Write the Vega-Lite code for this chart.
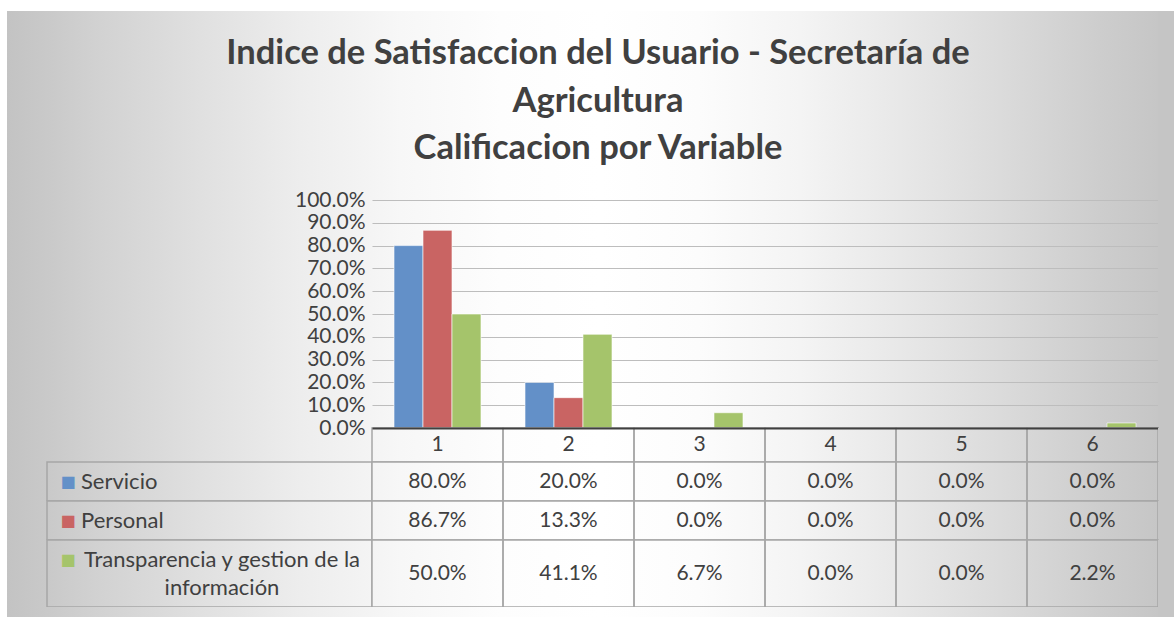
{
  "$schema": "https://vega.github.io/schema/vega-lite/v6.json",
  "padding": {"left": 7, "top": 11, "right": 0, "bottom": 0},
  "background": "#ffffff",
  "columns": 4,
  "spacing": 0,
  "bounds": "flush",
  "config": {
    "view": {"stroke": null},
    "font": "Lato",
    "axis": {"labelFont": "Lato"},
    "text": {"font": "Lato"}
  },
  "datasets": {
    "scores": [
      {"cat": "1", "serie": "Servicio", "value": 0.8},
      {"cat": "2", "serie": "Servicio", "value": 0.2},
      {"cat": "3", "serie": "Servicio", "value": 0},
      {"cat": "4", "serie": "Servicio", "value": 0},
      {"cat": "5", "serie": "Servicio", "value": 0},
      {"cat": "6", "serie": "Servicio", "value": 0},
      {"cat": "1", "serie": "Personal", "value": 0.867},
      {"cat": "2", "serie": "Personal", "value": 0.133},
      {"cat": "3", "serie": "Personal", "value": 0},
      {"cat": "4", "serie": "Personal", "value": 0},
      {"cat": "5", "serie": "Personal", "value": 0},
      {"cat": "6", "serie": "Personal", "value": 0},
      {"cat": "1", "serie": "Transparencia y gestion de la información", "value": 0.5},
      {"cat": "2", "serie": "Transparencia y gestion de la información", "value": 0.411},
      {"cat": "3", "serie": "Transparencia y gestion de la información", "value": 0.067},
      {"cat": "4", "serie": "Transparencia y gestion de la información", "value": 0},
      {"cat": "5", "serie": "Transparencia y gestion de la información", "value": 0},
      {"cat": "6", "serie": "Transparencia y gestion de la información", "value": 0.022}
    ],
    "series": [
      {"serie": "Servicio", "label": "Servicio"},
      {"serie": "Personal", "label": "Personal"},
      {"serie": "Transparencia y gestion de la información", "label": "Transparencia y gestion de la\ninformación"}
    ],
    "titles": [
      {"n": 1, "t": "Indice de Satisfaccion del Usuario - Secretaría de"},
      {"n": 2, "t": "Agricultura"},
      {"n": 3, "t": "Calificacion por Variable"}
    ]
  },
  "concat": [
    {"width": 40, "height": 189, "view": {"fill": {"gradient": "linear", "stops": [{"offset": 0, "color": "#c3c3c3"}, {"offset": 1, "color": "#c9c9c9"}]}},
      "data": {"name": "series"}, "mark": {"type": "point", "opacity": 0}, "encoding": {}},
    {"width": 325, "height": 189, "view": {"fill": {"gradient": "linear", "stops": [{"offset": 0, "color": "#c9c9c9"}, {"offset": 0.163, "color": "#d2d2d2"}, {"offset": 0.471, "color": "#e0e0e0"}, {"offset": 0.779, "color": "#ededed"}, {"offset": 1, "color": "#f4f4f4"}]}},
      "data": {"name": "series"}, "mark": {"type": "point", "opacity": 0}, "encoding": {}},
    {
      "width": 786, "height": 189,
      "view": {"fill": {"gradient": "linear", "stops": [{"offset": 0, "color": "#f4f4f4"}, {"offset": 0.036, "color": "#f7f7f7"}, {"offset": 0.163, "color": "#fdfdfd"}, {"offset": 0.29, "color": "#ffffff"}, {"offset": 0.417, "color": "#fcfcfc"}, {"offset": 0.545, "color": "#f4f4f4"}, {"offset": 0.672, "color": "#e8e8e8"}, {"offset": 0.799, "color": "#dbdbdb"}, {"offset": 0.926, "color": "#cdcdcd"}, {"offset": 1, "color": "#c6c6c6"}]}},
      "data": {"name": "titles"},
      "mark": {"type": "text", "fontWeight": "bold", "fontSize": 34.5, "color": "#404040", "dx": -167, "baseline": "middle"},
      "encoding": {
        "y": {"field": "n", "type": "ordinal", "scale": {"type": "point", "padding": 1.03, "align": 0.46}, "axis": null},
        "text": {"field": "t"}
      }
    },
    {"width": 16, "height": 189, "view": {"fill": "#c5c5c5"}, "data": {"name": "series"}, "mark": {"type": "point", "opacity": 0}, "encoding": {}},

    {"width": 40, "height": 228, "view": {"fill": {"gradient": "linear", "stops": [{"offset": 0, "color": "#c3c3c3"}, {"offset": 1, "color": "#c9c9c9"}]}},
      "data": {"name": "series"}, "mark": {"type": "point", "opacity": 0}, "encoding": {}},
    {"width": 325, "height": 228, "view": {"fill": {"gradient": "linear", "stops": [{"offset": 0, "color": "#c9c9c9"}, {"offset": 0.163, "color": "#d2d2d2"}, {"offset": 0.471, "color": "#e0e0e0"}, {"offset": 0.779, "color": "#ededed"}, {"offset": 1, "color": "#f4f4f4"}]}},
      "data": {"name": "series"}, "mark": {"type": "point", "opacity": 0}, "encoding": {}},
    {
      "width": 786, "height": 228,
      "view": {"fill": {"gradient": "linear", "stops": [{"offset": 0, "color": "#f4f4f4"}, {"offset": 0.036, "color": "#f7f7f7"}, {"offset": 0.163, "color": "#fdfdfd"}, {"offset": 0.29, "color": "#ffffff"}, {"offset": 0.417, "color": "#fcfcfc"}, {"offset": 0.545, "color": "#f4f4f4"}, {"offset": 0.672, "color": "#e8e8e8"}, {"offset": 0.799, "color": "#dbdbdb"}, {"offset": 0.926, "color": "#cdcdcd"}, {"offset": 1, "color": "#c6c6c6"}]}},
      "data": {"name": "scores"},
      "transform": [{"filter": "datum.value > 0"}],
      "mark": {"type": "bar", "stroke": "#ffffff", "strokeOpacity": 0.6, "strokeWidth": 1},
      "encoding": {
        "x": {"field": "cat", "type": "nominal",
          "scale": {"domain": ["1", "2", "3", "4", "5", "6"], "paddingInner": 0.336, "paddingOuter": 0.168},
          "axis": null},
        "xOffset": {"field": "serie", "type": "nominal",
          "scale": {"domain": ["Servicio", "Personal", "Transparencia y gestion de la información"], "paddingInner": 0, "paddingOuter": 0}},
        "y": {"field": "value", "type": "quantitative", "scale": {"domain": [0, 1]},
          "axis": {"title": null, "format": ".1%", "values": [0.1, 0.2, 0.3, 0.4, 0.5, 0.6, 0.7, 0.8, 0.9, 1],
            "labelOverlap": false, "labelBound": false,
            "domain": false, "ticks": false, "labelPadding": 7, "labelFontSize": 21, "labelColor": "#404040", "labelBaseline": "middle",
            "grid": true, "gridColor": "#bdbdbd", "gridWidth": 1}},
        "color": {"field": "serie", "type": "nominal", "legend": null,
          "scale": {"domain": ["Servicio", "Personal", "Transparencia y gestion de la información"], "range": ["#6390c8", "#c96463", "#a5c46b"]}}
      }
    },
    {"width": 16, "height": 228, "view": {"fill": "#c5c5c5"}, "data": {"name": "series"}, "mark": {"type": "point", "opacity": 0}, "encoding": {}},

    {"width": 40, "height": 34, "view": {"fill": {"gradient": "linear", "stops": [{"offset": 0, "color": "#c3c3c3"}, {"offset": 1, "color": "#c9c9c9"}]}},
      "data": {"name": "series"}, "mark": {"type": "point", "opacity": 0}, "encoding": {}},
    {"width": 325, "height": 34, "view": {"fill": {"gradient": "linear", "stops": [{"offset": 0, "color": "#c9c9c9"}, {"offset": 0.163, "color": "#d2d2d2"}, {"offset": 0.471, "color": "#e0e0e0"}, {"offset": 0.779, "color": "#ededed"}, {"offset": 1, "color": "#f4f4f4"}]}},
      "data": {"name": "series"}, "mark": {"type": "point", "opacity": 0},
      "encoding": {"y": {"datum": 0, "type": "quantitative", "scale": {"domain": [0, 1], "reverse": true},
        "axis": {"orient": "right", "values": [0], "format": ".1%", "title": null, "domain": false, "ticks": false, "grid": false,
          "labelPadding": -7, "labelAlign": "right", "labelBaseline": "middle", "labelFontSize": 21, "labelColor": "#404040",
          "labelOverlap": false, "labelBound": false, "labelFlush": false}}}},
    {
      "width": 786, "height": 34,
      "view": {"fill": {"gradient": "linear", "stops": [{"offset": 0, "color": "#f4f4f4"}, {"offset": 0.036, "color": "#f7f7f7"}, {"offset": 0.163, "color": "#fdfdfd"}, {"offset": 0.29, "color": "#ffffff"}, {"offset": 0.417, "color": "#fcfcfc"}, {"offset": 0.545, "color": "#f4f4f4"}, {"offset": 0.672, "color": "#e8e8e8"}, {"offset": 0.799, "color": "#dbdbdb"}, {"offset": 0.926, "color": "#cdcdcd"}, {"offset": 1, "color": "#c6c6c6"}]}},
      "data": {"name": "scores"},
      "transform": [{"filter": {"field": "serie", "equal": "Servicio"}}],
      "encoding": {"x": {"field": "cat", "type": "nominal", "scale": {"paddingInner": 0, "paddingOuter": 0},
        "axis": {"orient": "top", "title": null, "labels": false, "ticks": false, "grid": false, "domain": true, "domainColor": "#404040", "domainWidth": 2, "zindex": 1}}},
      "layer": [
        {"mark": {"type": "rect", "fill": "transparent", "stroke": "#a6a6a6", "strokeWidth": 1.5}},
        {"mark": {"type": "text", "fontSize": 21, "color": "#404040", "baseline": "middle"}, "encoding": {"text": {"field": "cat"}}}
      ]
    },
    {"width": 16, "height": 34, "view": {"fill": "#c5c5c5"}, "data": {"name": "series"}, "mark": {"type": "point", "opacity": 0}, "encoding": {}},

    {"width": 40, "height": 39, "view": {"fill": {"gradient": "linear", "stops": [{"offset": 0, "color": "#c3c3c3"}, {"offset": 1, "color": "#c9c9c9"}]}},
      "data": {"name": "series"}, "mark": {"type": "point", "opacity": 0}, "encoding": {}},
    {
      "width": 325, "height": 39,
      "view": {"stroke": "#a6a6a6", "strokeWidth": 1.5, "fill": {"gradient": "linear", "stops": [{"offset": 0, "color": "#c9c9c9"}, {"offset": 0.163, "color": "#d2d2d2"}, {"offset": 0.471, "color": "#e0e0e0"}, {"offset": 0.779, "color": "#ededed"}, {"offset": 1, "color": "#f4f4f4"}]}},
      "data": {"name": "series"},
      "transform": [{"filter": {"field": "serie", "equal": "Servicio"}}],
      "layer": [
        {"mark": {"type": "text", "text": "■", "font": "DejaVu Sans", "fontSize": 16, "dx": -141.5, "baseline": "middle"},
          "encoding": {"color": {"field": "serie", "type": "nominal", "legend": null,
            "scale": {"domain": ["Servicio", "Personal", "Transparencia y gestion de la información"], "range": ["#4f81bd", "#c0504d", "#9bbb59"]}}}},
        {"mark": {"type": "text", "align": "left", "dx": -128.5, "fontSize": 22, "color": "#404040", "baseline": "middle"},
          "encoding": {"text": {"field": "label"}}}
      ]
    },
    {
      "width": 786, "height": 39,
      "view": {"fill": {"gradient": "linear", "stops": [{"offset": 0, "color": "#f4f4f4"}, {"offset": 0.036, "color": "#f7f7f7"}, {"offset": 0.163, "color": "#fdfdfd"}, {"offset": 0.29, "color": "#ffffff"}, {"offset": 0.417, "color": "#fcfcfc"}, {"offset": 0.545, "color": "#f4f4f4"}, {"offset": 0.672, "color": "#e8e8e8"}, {"offset": 0.799, "color": "#dbdbdb"}, {"offset": 0.926, "color": "#cdcdcd"}, {"offset": 1, "color": "#c6c6c6"}]}},
      "data": {"name": "scores"},
      "transform": [{"filter": {"field": "serie", "equal": "Servicio"}}],
      "encoding": {"x": {"field": "cat", "type": "nominal", "scale": {"paddingInner": 0, "paddingOuter": 0}, "axis": null}},
      "layer": [
        {"mark": {"type": "rect", "fill": "transparent", "stroke": "#a6a6a6", "strokeWidth": 1.5}},
        {"mark": {"type": "text", "fontSize": 21, "color": "#404040", "baseline": "middle"}, "encoding": {"text": {"field": "value", "type": "quantitative", "format": ".1%"}}}
      ]
    },
    {"width": 16, "height": 39, "view": {"fill": "#c5c5c5"}, "data": {"name": "series"}, "mark": {"type": "point", "opacity": 0}, "encoding": {}},

    {"width": 40, "height": 39, "view": {"fill": {"gradient": "linear", "stops": [{"offset": 0, "color": "#c3c3c3"}, {"offset": 1, "color": "#c9c9c9"}]}},
      "data": {"name": "series"}, "mark": {"type": "point", "opacity": 0}, "encoding": {}},
    {
      "width": 325, "height": 39,
      "view": {"stroke": "#a6a6a6", "strokeWidth": 1.5, "fill": {"gradient": "linear", "stops": [{"offset": 0, "color": "#c9c9c9"}, {"offset": 0.163, "color": "#d2d2d2"}, {"offset": 0.471, "color": "#e0e0e0"}, {"offset": 0.779, "color": "#ededed"}, {"offset": 1, "color": "#f4f4f4"}]}},
      "data": {"name": "series"},
      "transform": [{"filter": {"field": "serie", "equal": "Personal"}}],
      "layer": [
        {"mark": {"type": "text", "text": "■", "font": "DejaVu Sans", "fontSize": 16, "dx": -141.5, "baseline": "middle"},
          "encoding": {"color": {"field": "serie", "type": "nominal", "legend": null,
            "scale": {"domain": ["Servicio", "Personal", "Transparencia y gestion de la información"], "range": ["#4f81bd", "#c0504d", "#9bbb59"]}}}},
        {"mark": {"type": "text", "align": "left", "dx": -128.5, "fontSize": 22, "color": "#404040", "baseline": "middle"},
          "encoding": {"text": {"field": "label"}}}
      ]
    },
    {
      "width": 786, "height": 39,
      "view": {"fill": {"gradient": "linear", "stops": [{"offset": 0, "color": "#f4f4f4"}, {"offset": 0.036, "color": "#f7f7f7"}, {"offset": 0.163, "color": "#fdfdfd"}, {"offset": 0.29, "color": "#ffffff"}, {"offset": 0.417, "color": "#fcfcfc"}, {"offset": 0.545, "color": "#f4f4f4"}, {"offset": 0.672, "color": "#e8e8e8"}, {"offset": 0.799, "color": "#dbdbdb"}, {"offset": 0.926, "color": "#cdcdcd"}, {"offset": 1, "color": "#c6c6c6"}]}},
      "data": {"name": "scores"},
      "transform": [{"filter": {"field": "serie", "equal": "Personal"}}],
      "encoding": {"x": {"field": "cat", "type": "nominal", "scale": {"paddingInner": 0, "paddingOuter": 0}, "axis": null}},
      "layer": [
        {"mark": {"type": "rect", "fill": "transparent", "stroke": "#a6a6a6", "strokeWidth": 1.5}},
        {"mark": {"type": "text", "fontSize": 21, "color": "#404040", "baseline": "middle"}, "encoding": {"text": {"field": "value", "type": "quantitative", "format": ".1%"}}}
      ]
    },
    {"width": 16, "height": 39, "view": {"fill": "#c5c5c5"}, "data": {"name": "series"}, "mark": {"type": "point", "opacity": 0}, "encoding": {}},

    {"width": 40, "height": 67, "view": {"fill": {"gradient": "linear", "stops": [{"offset": 0, "color": "#c3c3c3"}, {"offset": 1, "color": "#c9c9c9"}]}},
      "data": {"name": "series"}, "mark": {"type": "point", "opacity": 0}, "encoding": {}},
    {
      "width": 325, "height": 67,
      "view": {"stroke": "#a6a6a6", "strokeWidth": 1.5, "fill": {"gradient": "linear", "stops": [{"offset": 0, "color": "#c9c9c9"}, {"offset": 0.163, "color": "#d2d2d2"}, {"offset": 0.471, "color": "#e0e0e0"}, {"offset": 0.779, "color": "#ededed"}, {"offset": 1, "color": "#f4f4f4"}]}},
      "data": {"name": "series"},
      "transform": [{"filter": {"field": "serie", "equal": "Transparencia y gestion de la información"}}],
      "layer": [
        {"mark": {"type": "text", "text": "■", "font": "DejaVu Sans", "fontSize": 16, "dx": -141.5, "dy": -14, "baseline": "middle"},
          "encoding": {"color": {"field": "serie", "type": "nominal", "legend": null,
            "scale": {"domain": ["Servicio", "Personal", "Transparencia y gestion de la información"], "range": ["#4f81bd", "#c0504d", "#9bbb59"]}}}},
        {"mark": {"type": "text", "align": "center", "dx": 12.5, "dy": -14, "fontSize": 22, "color": "#404040", "baseline": "middle", "lineBreak": "\n", "lineHeight": 28},
          "encoding": {"text": {"field": "label"}}}
      ]
    },
    {
      "width": 786, "height": 67,
      "view": {"fill": {"gradient": "linear", "stops": [{"offset": 0, "color": "#f4f4f4"}, {"offset": 0.036, "color": "#f7f7f7"}, {"offset": 0.163, "color": "#fdfdfd"}, {"offset": 0.29, "color": "#ffffff"}, {"offset": 0.417, "color": "#fcfcfc"}, {"offset": 0.545, "color": "#f4f4f4"}, {"offset": 0.672, "color": "#e8e8e8"}, {"offset": 0.799, "color": "#dbdbdb"}, {"offset": 0.926, "color": "#cdcdcd"}, {"offset": 1, "color": "#c6c6c6"}]}},
      "data": {"name": "scores"},
      "transform": [{"filter": {"field": "serie", "equal": "Transparencia y gestion de la información"}}],
      "encoding": {"x": {"field": "cat", "type": "nominal", "scale": {"paddingInner": 0, "paddingOuter": 0}, "axis": null}},
      "layer": [
        {"mark": {"type": "rect", "fill": "transparent", "stroke": "#a6a6a6", "strokeWidth": 1.5}},
        {"mark": {"type": "text", "fontSize": 21, "color": "#404040", "baseline": "middle"}, "encoding": {"text": {"field": "value", "type": "quantitative", "format": ".1%"}}}
      ]
    },
    {"width": 16, "height": 67, "view": {"fill": "#c5c5c5"}, "data": {"name": "series"}, "mark": {"type": "point", "opacity": 0}, "encoding": {}},

    {"width": 40, "height": 10, "view": {"fill": {"gradient": "linear", "stops": [{"offset": 0, "color": "#c3c3c3"}, {"offset": 1, "color": "#c9c9c9"}]}},
      "data": {"name": "series"}, "mark": {"type": "point", "opacity": 0}, "encoding": {}},
    {"width": 325, "height": 10, "view": {"fill": {"gradient": "linear", "stops": [{"offset": 0, "color": "#c9c9c9"}, {"offset": 0.163, "color": "#d2d2d2"}, {"offset": 0.471, "color": "#e0e0e0"}, {"offset": 0.779, "color": "#ededed"}, {"offset": 1, "color": "#f4f4f4"}]}},
      "data": {"name": "series"}, "mark": {"type": "point", "opacity": 0}, "encoding": {}},
    {"width": 786, "height": 10, "view": {"fill": {"gradient": "linear", "stops": [{"offset": 0, "color": "#f4f4f4"}, {"offset": 0.036, "color": "#f7f7f7"}, {"offset": 0.163, "color": "#fdfdfd"}, {"offset": 0.29, "color": "#ffffff"}, {"offset": 0.417, "color": "#fcfcfc"}, {"offset": 0.545, "color": "#f4f4f4"}, {"offset": 0.672, "color": "#e8e8e8"}, {"offset": 0.799, "color": "#dbdbdb"}, {"offset": 0.926, "color": "#cdcdcd"}, {"offset": 1, "color": "#c6c6c6"}]}},
      "data": {"name": "series"}, "mark": {"type": "point", "opacity": 0}, "encoding": {}},
    {"width": 16, "height": 10, "view": {"fill": "#c5c5c5"}, "data": {"name": "series"}, "mark": {"type": "point", "opacity": 0}, "encoding": {}}
  ]
}
